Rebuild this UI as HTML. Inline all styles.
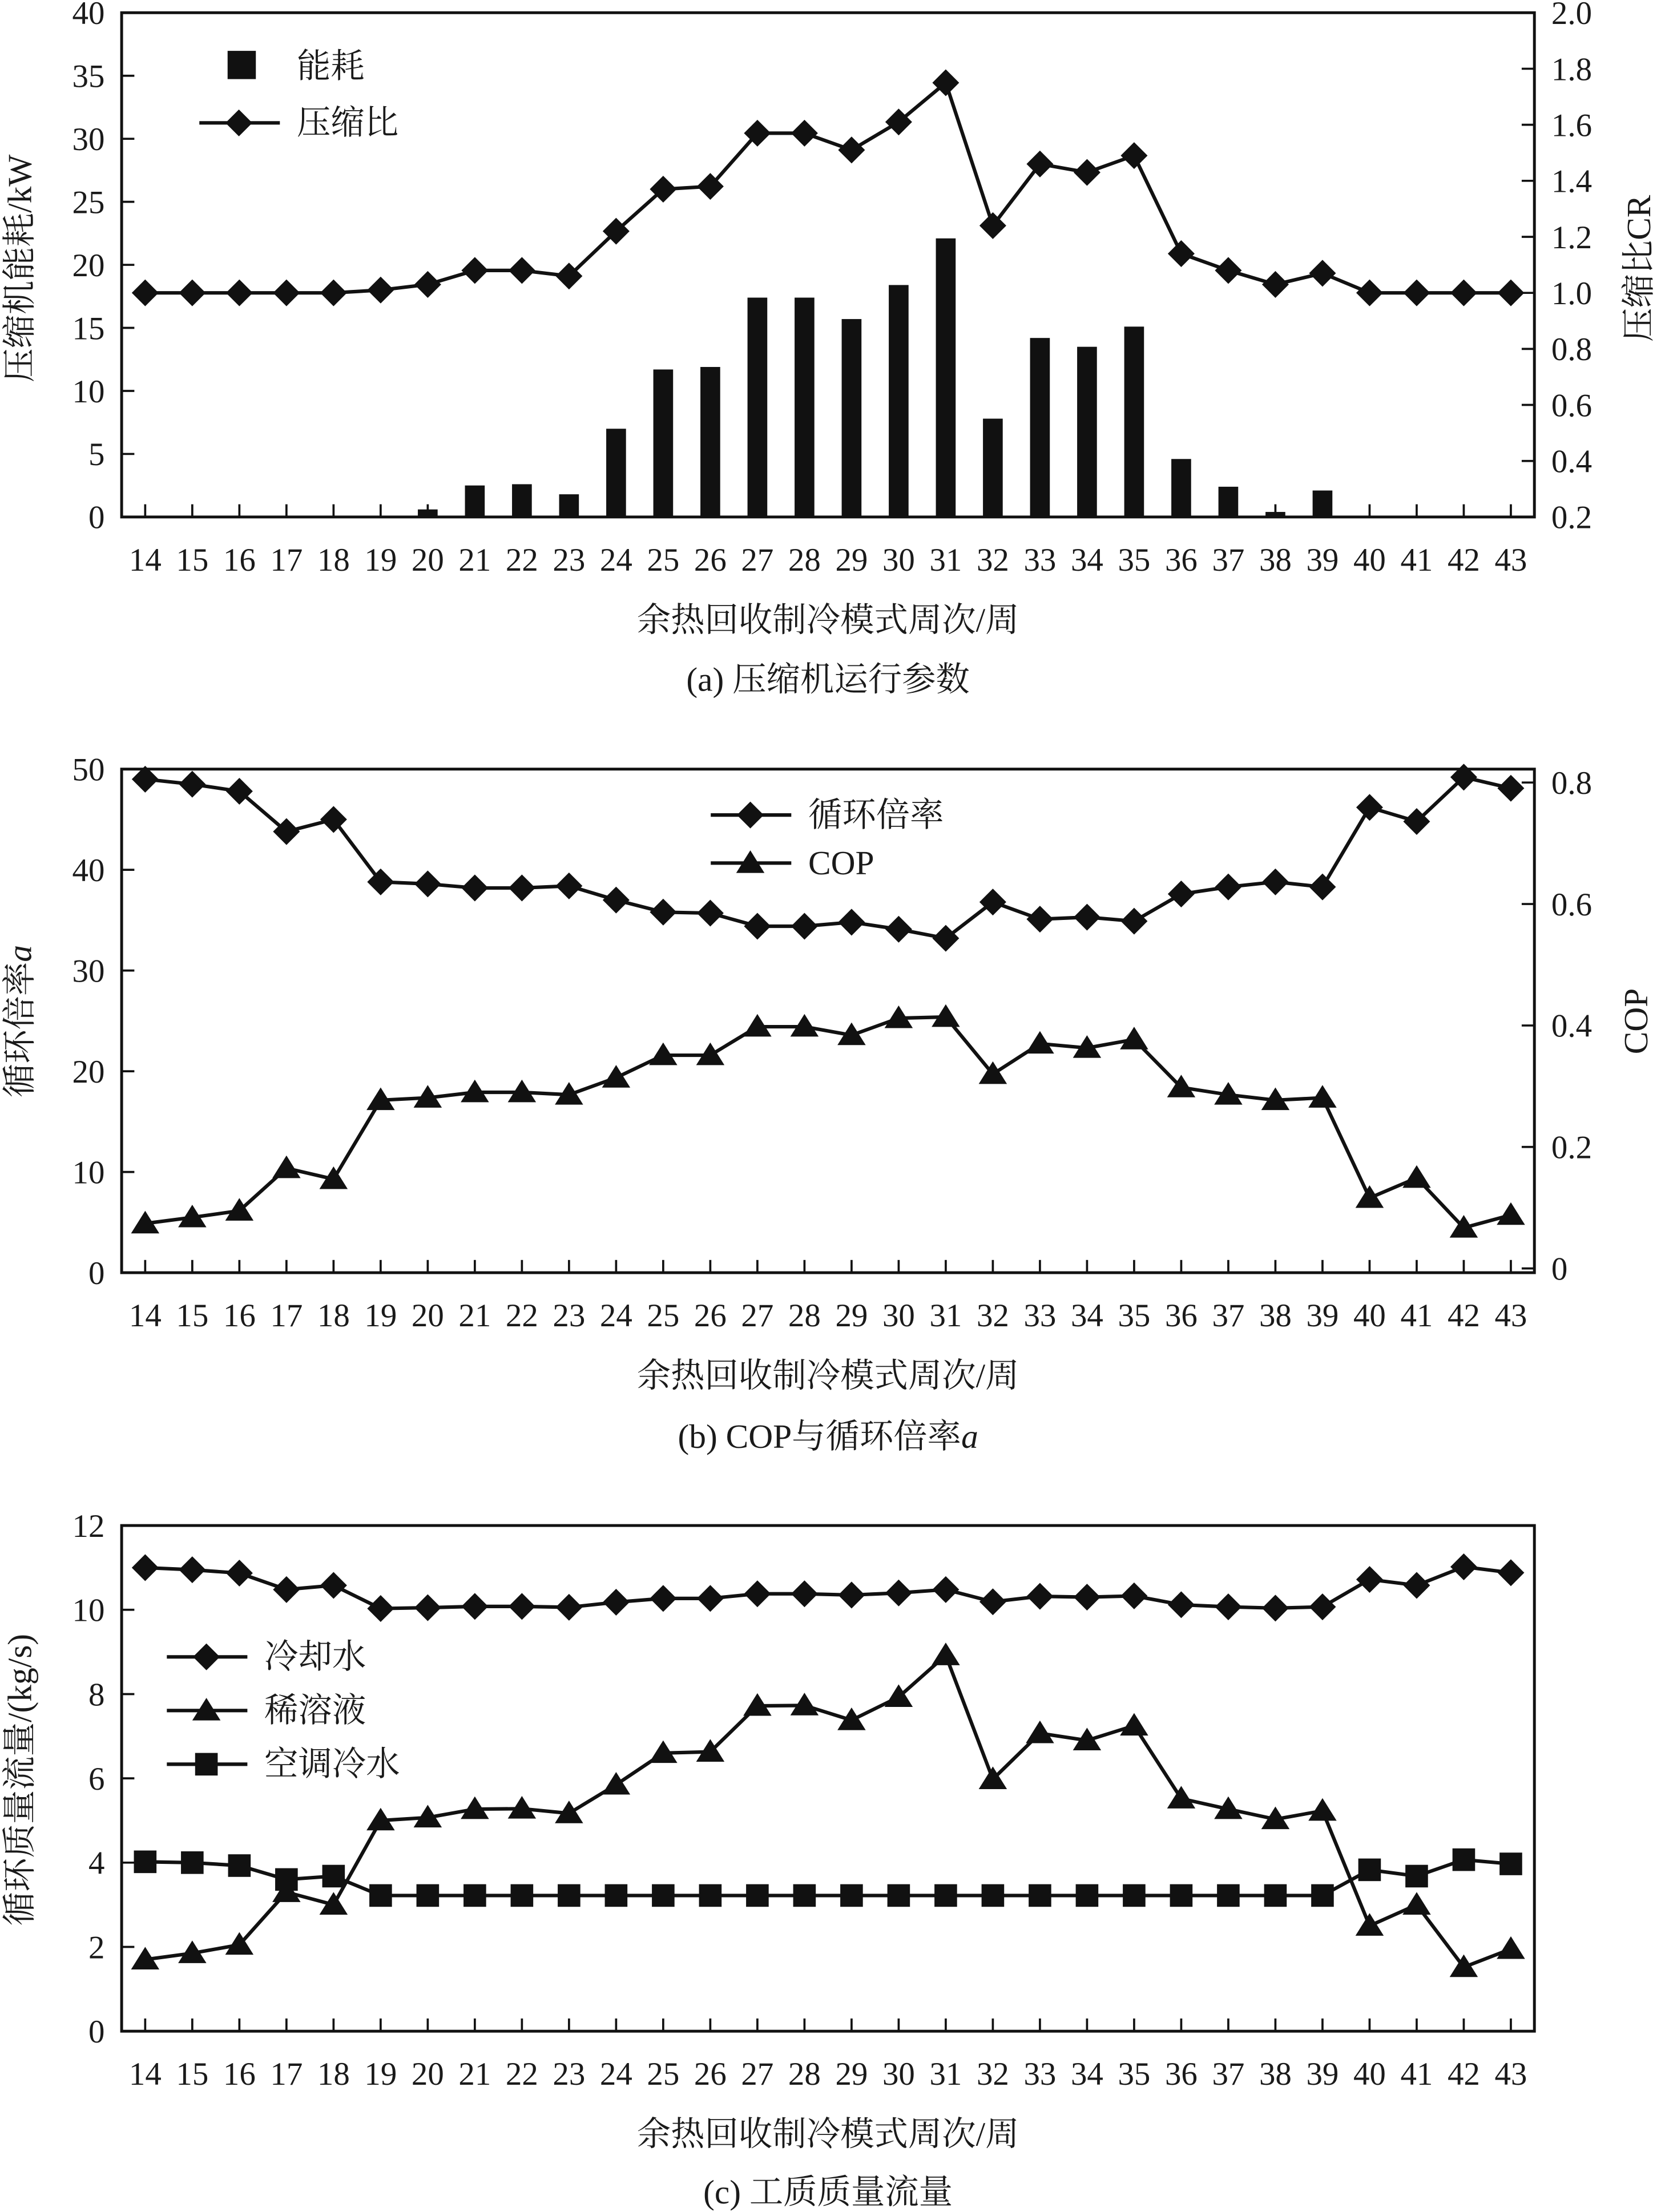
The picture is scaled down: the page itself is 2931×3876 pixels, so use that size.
<!DOCTYPE html>
<html><head><meta charset="utf-8"><style>
html,body{margin:0;padding:0;background:#fff}
svg{display:block}
text{font-family:"Liberation Serif","Noto Serif CJK SC",serif;fill:#1a1a1a}
</style></head><body>
<svg id="fig" xmlns="http://www.w3.org/2000/svg" width="2931" height="3876" viewBox="0 0 1184 1566"></svg>
<script>
const weeks=[14,15,16,17,18,19,20,21,22,23,24,25,26,27,28,29,30,31,32,33,34,35,36,37,38,39,40,41,42,43];
const energyKW=[0,0,0,0,0,0,0.6,2.5,2.6,1.8,7,11.7,11.9,17.4,17.4,15.7,18.4,22.1,7.8,14.2,13.5,15.1,4.6,2.4,0.4,2.1,0,0,0,0];
const compRatio=[1.0,1.0,1.0,1.0,1.0,1.01,1.03,1.08,1.08,1.06,1.22,1.37,1.38,1.57,1.57,1.51,1.61,1.75,1.24,1.46,1.43,1.49,1.14,1.08,1.03,1.07,1.0,1.0,1.0,1.0];
const circRatio=[49,48.5,47.8,43.8,45,38.8,38.6,38.2,38.2,38.4,37,35.8,35.7,34.4,34.4,34.8,34.1,33.2,36.8,35.1,35.3,34.9,37.6,38.3,38.8,38.3,46.2,44.8,49.2,48.1];
const cop=[0.074,0.084,0.095,0.165,0.147,0.277,0.281,0.29,0.29,0.286,0.314,0.351,0.351,0.398,0.398,0.384,0.412,0.414,0.32,0.37,0.363,0.377,0.298,0.286,0.277,0.281,0.116,0.149,0.067,0.088];
const coolWater=[11.0,10.95,10.87,10.48,10.58,10.03,10.05,10.08,10.08,10.06,10.18,10.27,10.27,10.38,10.38,10.35,10.4,10.48,10.19,10.32,10.3,10.33,10.12,10.07,10.04,10.07,10.72,10.58,11.02,10.88];
const dilute=[1.7,1.85,2.05,3.3,3.0,5.0,5.07,5.27,5.28,5.17,5.85,6.6,6.63,7.72,7.73,7.38,7.93,8.92,5.98,7.07,6.9,7.25,5.52,5.27,5.03,5.23,2.5,3.0,1.52,1.95];
const chilled=[4.02,4.0,3.93,3.6,3.68,3.22,3.22,3.22,3.22,3.22,3.22,3.22,3.22,3.22,3.22,3.22,3.22,3.22,3.22,3.22,3.22,3.22,3.22,3.22,3.22,3.22,3.83,3.68,4.07,3.97];
const ticksA=[0,5,10,15,20,25,30,35,40];
const ticksAR=["0.2","0.4","0.6","0.8","1.0","1.2","1.4","1.6","1.8","2.0"];
const ticksB=[0,10,20,30,40,50];
const ticksBR=["0","0.2","0.4","0.6","0.8"];
const ticksC=[0,2,4,6,8,10,12];

const NS="http://www.w3.org/2000/svg";
const svg=document.getElementById('fig');
function mk(tag,attrs,parent){const e=document.createElementNS(NS,tag);for(const k in attrs)e.setAttribute(k,attrs[k]);(parent||svg).appendChild(e);return e;}
const X0=86,X1=1086,BW=(X1-X0)/weeks.length;
function xs(i){return X0+BW*(i+0.5);}
function lin(v,v0,v1,y0,y1){return y0+(v-v0)/(v1-v0)*(y1-y0);}

function diamond(g,x,y){const s=9.5;const e=mk('path',{d:`M${x} ${y-s}L${x+s} ${y}L${x} ${y+s}L${x-s} ${y}Z`,fill:'#111'},g);}
function tri(g,x,y){const e=mk('path',{d:`M${x} ${y-9}L${x+10} ${y+7}L${x-10} ${y+7}Z`,fill:'#111'},g);}
function sq(g,x,y){const e=mk('rect',{x:x-8,y:y-8,width:16,height:16,fill:'#111'},g);}

function frame(top,bot,name){
  const g=mk('g',{});
  const r=mk('rect',{x:X0,y:top,width:X1-X0,height:bot-top,fill:'none',stroke:'#111','stroke-width':2},g);
  
  weeks.forEach((w,i)=>{
    const t=mk('line',{x1:xs(i),x2:xs(i),y1:bot,y2:bot-9,stroke:'#111','stroke-width':1.5},g);
    
    const l=mk('text',{x:xs(i),y:bot+38,'font-size':23,'text-anchor':'middle'},g);l.textContent=w;
    
  });
  const xt=mk('text',{x:586,y:bot+81,'font-size':24,'text-anchor':'middle'},g);xt.textContent='余热回收制冷模式周次/周';
  
  return g;
}
function yTicks(g,vals,labels,f,side){
  vals.forEach((v,i)=>{
    const y=f(v);
    if(side==='L'){
      const t=mk('line',{x1:X0,x2:X0+9,y1:y,y2:y,stroke:'#111','stroke-width':1.5},g);
      const l=mk('text',{x:74,y:y+8,'font-size':23,'text-anchor':'end'},g);l.textContent=labels[i];
    }else{
      const t=mk('line',{x1:X1,x2:X1-9,y1:y,y2:y,stroke:'#111','stroke-width':1.5},g);
      const l=mk('text',{x:1098,y:y+8,'font-size':23,'text-anchor':'start'},g);l.textContent=labels[i];
    }
  });
}
function vtitle(g,x,y,txt,name){const t=mk('text',{x:x,y:y,'font-size':24,'text-anchor':'middle',transform:`rotate(-90 ${x} ${y})`},g);t.innerHTML=txt;}
function series(g,vals,f,marker,name){
  const s=mk('g',{},g);
  const pts=vals.map((v,i)=>xs(i)+','+f(v)).join(' ');
  const pl=mk('polyline',{points:pts,fill:'none',stroke:'#111','stroke-width':2.5,'stroke-linejoin':'round'},s);
  
  vals.forEach((v,i)=>marker(s,xs(i),f(v)));
}
function caption(y,txt,name){const t=mk('text',{x:586,y:y,'font-size':24,'text-anchor':'middle'});t.innerHTML=txt;}
function legLine(g,x,y,marker,txt,name){
  const lg=mk('g',{},g);
  mk('line',{x1:x,x2:x+57,y1:y,y2:y,stroke:'#111','stroke-width':2.5},lg);
  marker(lg,x+28,y);
  const t=mk('text',{x:x+69,y:y+8,'font-size':24},lg);t.textContent=txt;
}

// Chart A
(function(){
  const T=9,B=366;
  const g=frame(T,B,'chart-a-compressor');
  const fL=v=>lin(v,0,40,B,T), fR=v=>lin(v,0.2,2.0,B,T);
  yTicks(g,ticksA,ticksA.map(String),fL,'L');
  yTicks(g,ticksAR.map(Number),ticksAR,fR,'R');
  energyKW.forEach((v,i)=>{if(v<=0)return;const b=mk('rect',{x:xs(i)-7,y:fL(v),width:14,height:B-fL(v),fill:'#111'},g);});
  series(g,compRatio,fR,diamond,'compression-ratio-series');
  vtitle(g,22,190,'压缩机能耗/kW','y-axis-title');
  vtitle(g,1168,190,'压缩比CR','y2-axis-title');
  const lg=mk('g',{},g);
  mk('rect',{x:161,y:36,width:20,height:20,fill:'#111'},lg);
  const t1=mk('text',{x:210,y:55,'font-size':24},lg);t1.textContent='能耗';
  legLine(g,141,87,diamond,'压缩比','legend-compression-ratio');
  caption(489,'(a) 压缩机运行参数','caption-a');
})();
// Chart B
(function(){
  const T=544.5,B=901;
  const g=frame(T,B,'chart-b-cop');
  const fL=v=>lin(v,0,50,B,T), fR=v=>lin(v,0,0.8,898,554);
  yTicks(g,ticksB,ticksB.map(String),fL,'L');
  yTicks(g,ticksBR.map(Number),ticksBR,fR,'R');
  series(g,circRatio,fL,diamond,'circulation-ratio-series');
  series(g,cop,fR,tri,'cop-series');
  vtitle(g,22,723,'循环倍率<tspan font-style="italic">a</tspan>','y-axis-title');
  vtitle(g,1166,723,'COP','y2-axis-title');
  legLine(g,503,577,diamond,'循环倍率','legend-circulation-ratio');
  legLine(g,503,611,tri,'COP','legend-cop');
  caption(1025,'(b) COP与循环倍率<tspan font-style="italic">a</tspan>','caption-b');
})();
// Chart C
(function(){
  const T=1080,B=1438;
  const g=frame(T,B,'chart-c-mass-flow');
  const fL=v=>lin(v,0,12,B,T);
  yTicks(g,ticksC,ticksC.map(String),fL,'L');
  series(g,coolWater,fL,diamond,'cooling-water-series');
  series(g,dilute,fL,tri,'dilute-solution-series');
  series(g,chilled,fL,sq,'chilled-water-series');
  vtitle(g,22,1260,'循环质量流量/(kg/s)','y-axis-title');
  legLine(g,118,1173,diamond,'冷却水','legend-cooling-water');
  legLine(g,118,1211,tri,'稀溶液','legend-dilute-solution');
  legLine(g,118,1249,sq,'空调冷水','legend-chilled-water');
  caption(1560,'(c) 工质质量流量','caption-c');
})();
</script>
</body></html>
